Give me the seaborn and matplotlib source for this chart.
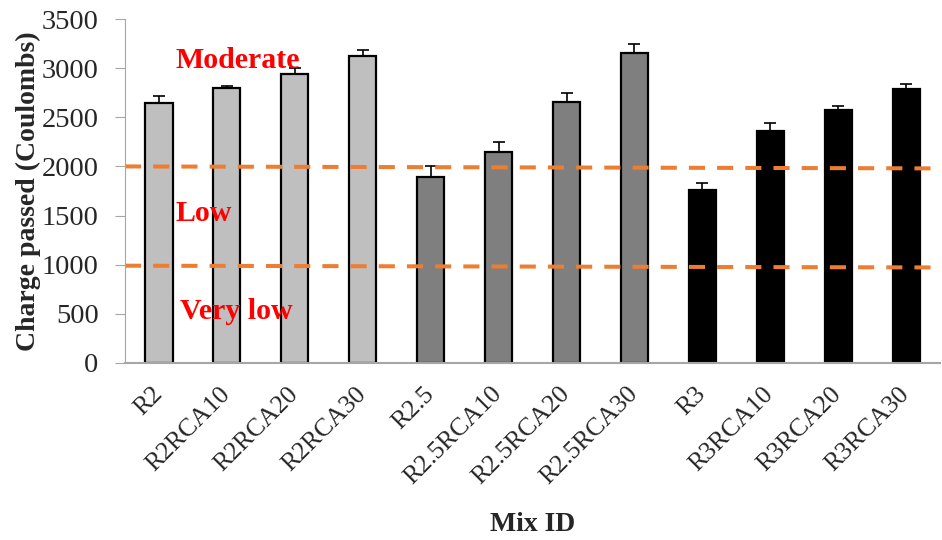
import numpy as np
import seaborn as sns
import matplotlib.pyplot as plt

mix_ids = ['R2', 'R2RCA10', 'R2RCA20', 'R2RCA30',
           'R2.5', 'R2.5RCA10', 'R2.5RCA20', 'R2.5RCA30',
           'R3', 'R3RCA10', 'R3RCA20', 'R3RCA30']
charge = [2642, 2794, 2943, 3123,
          1892, 2143, 2658, 3150,
          1763, 2357, 2570, 2783]
charge_err = [78, 20, 55, 58,
              115, 105, 92, 92,
              71, 88, 44, 57]
group_colors = ['#BFBFBF'] * 4 + ['#7F7F7F'] * 4 + ['#000000'] * 4

# limits between classes (drawn slightly tilted like the original)
moderate_line = [2000, 1980]
low_line = [990, 972]
class_labels = ['Moderate', 'Low', 'Very low']
class_label_y = [3082, 1526, 519]

sns.set_style('white')
plt.rcParams['font.family'] = ['Liberation Serif', 'DejaVu Serif']

fig = plt.figure(figsize=(9.42, 5.4), dpi=100)
ax = fig.add_axes([0.1327, 0.3278, 0.8653, 0.637])

sns.barplot(x=mix_ids, y=charge, hue=mix_ids, palette=group_colors,
            legend=False, width=0.4, edgecolor='black', linewidth=1.6, ax=ax)
ax.errorbar(np.arange(len(mix_ids)), charge,
            yerr=[np.zeros(len(charge)), charge_err],
            fmt='none', ecolor='black', elinewidth=1.2, capsize=4, capthick=1.2)

ax.plot([-0.5, 11.5], moderate_line, ls=(0, (4, 3)), color='#ED7D31', lw=2.9)
ax.plot([-0.5, 11.5], low_line, ls=(0, (4, 3)), color='#ED7D31', lw=2.9)

for lab, yy, xx in zip(class_labels, class_label_y, [0.24, 0.24, 0.31]):
    ax.text(xx, yy, lab, color='#FF0000', fontsize=21.5, fontweight='bold',
            va='center', ha='left')

ax.set_xlim(-0.5, 11.5)
ax.set_ylim(0, 3500)
ax.set_yticks(range(0, 3501, 500))
ax.tick_params(axis='y', labelsize=20.5, length=7, color='#A6A6A6',
               direction='out', left=True, pad=12)
ax.tick_params(axis='x', labelsize=18.5, length=0, pad=20)
plt.setp(ax.get_xticklabels(), rotation=45, ha='right', va='center',
         rotation_mode='anchor')

for s in ['top', 'right']:
    ax.spines[s].set_visible(False)
ax.spines['left'].set_color('#A6A6A6')
ax.spines['bottom'].set_color('#A6A6A6')
ax.spines['bottom'].set_linewidth(1.5)

ax.set_ylabel('Charge passed (Coulombs)', fontsize=20, fontweight='bold')
ax.yaxis.set_label_coords(-0.103, 0.5)
ax.set_xlabel('Mix ID', fontsize=20, fontweight='bold', va='center')
ax.xaxis.set_label_coords(0.5, -0.47)

fig.savefig('out.png', dpi=100)
